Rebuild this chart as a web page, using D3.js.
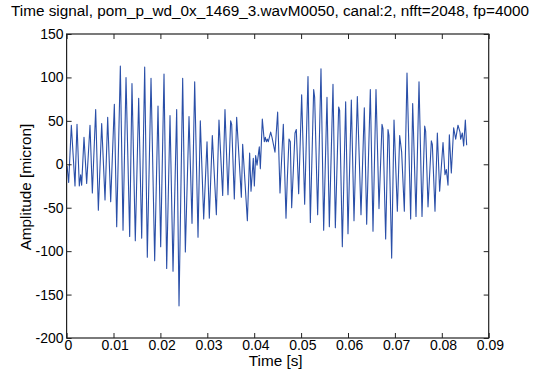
<!DOCTYPE html>
<html>
<head>
<meta charset="utf-8">
<script src="https://cdn.jsdelivr.net/npm/d3@7/dist/d3.min.js"></script>
<style>
  html, body { margin: 0; padding: 0; background: #fff; }
  svg { display: block; }
  text { font-family: "Liberation Sans", Arial, sans-serif; fill: #000; }
</style>
</head>
<body>
<svg id="chart" width="536" height="370"></svg>
<script>
// Time of each read sample (milliseconds) and its amplitude (micron)
const timeMs = [
  0.10, 0.44, 1.01, 1.79, 2.22, 2.71, 3.00, 3.21, 3.71, 4.28, 4.99, 5.49, 6.20, 6.77, 7.48, 8.19, 8.76, 9.40,
  10.18, 10.68, 11.46, 12.03, 12.67, 13.45, 13.94, 14.65,
  15.37, 16.01, 16.65, 17.21, 18.00, 18.78, 19.49, 20.06, 20.77, 21.34, 22.05, 22.69, 23.47, 23.97,
  24.75, 25.32, 26.10, 26.74, 27.31, 28.02, 28.51, 29.23, 29.94, 30.43,
  31.07, 31.93, 32.49, 33.28, 33.77, 34.41, 34.98, 35.20, 35.76, 36.26, 37.26, 37.54, 38.54, 39.03,
  39.32, 39.81, 40.03, 40.31, 40.60, 41.09, 41.31, 41.73, 42.16, 42.37, 42.59, 42.80, 43.01, 43.51,
  43.80, 44.43, 45.00, 45.50, 46.21, 46.78,
  47.06, 47.42, 47.70, 47.99, 48.70, 48.98, 49.48, 50.12, 50.76, 51.47, 51.97, 52.68, 52.89, 53.53,
  54.24, 54.81, 55.52, 56.02, 56.80, 57.30, 58.01, 58.22, 58.79, 59.50, 60.00, 60.71, 61.28, 61.99, 62.77,
  63.48, 63.98, 64.76, 65.33, 65.97, 66.61, 67.25, 67.46, 68.03, 68.53, 68.74, 69.31, 69.81, 70.52,
  71.02, 71.44, 72.01, 72.58, 73.36, 73.79, 74.50, 75.14, 75.78, 76.35, 76.56, 77.06, 77.77, 77.98, 78.55,
  79.05, 79.54, 80.26, 80.68, 80.97, 81.32, 81.61, 82.03, 82.53, 82.96, 83.45, 83.88, 84.02, 84.38,
  84.66, 85.02, 85.30
];
const amplitude = [
  -2, -21, 45, -25, 46, -25, -12, -24, 31, -22, 45, -33, 63, -53, 47, -41, 54, -43,
  69, -72, 113, -76, 100, -83, 93, -88,
  76, -85, 112, -107, 99, -111, 67, -95, 104, -120, 56, -123, 63, -163,
  99, -101, 55, -68, 95, -84, 50, -63, 26, -62,
  33, -58, 51, -36, 63, -35, 50, 46, -40, 54, -38, 23, -65, 13,
  -31, 7, -25, 10, -1, 20, -5, 52, 26, 31, 26, 29, 26, 37,
  31, 14, 60, -33, 46, -62,
  -17, 29, 26, -50, 36, 40, -34, 80, -46, 101, -67, 86, 77, -58,
  110, -76, 77, -72, 92, -73, 66, 62, -95, 72, -80, 74, -65, 78, -58,
  65, -69, 86, -77, 86, -51, 46, 41, -86, 40, 33, -108, 51, -54,
  33, 14, -54, 105, -63, 70, -60, 95, -60, 44, 38, -49, 27, 23, -54,
  36, -31, 25, -12, -6, -24, 34, -10, 42, 29, 45, 37, 29, 36,
  21, 51, 22
];

const xTicks = [0, 0.01, 0.02, 0.03, 0.04, 0.05, 0.06, 0.07, 0.08, 0.09];
const xTickLabels = ["0", "0.01", "0.02", "0.03", "0.04", "0.05", "0.06", "0.07", "0.08", "0.09"];
const yTicks = [-200, -150, -100, -50, 0, 50, 100, 150];
const yTickLabels = ["-200", "-150", "-100", "-50", "0", "50", "100", "150"];

const titleText = "Time signal, pom_p_wd_0x_1469_3.wavM0050, canal:2, nfft=2048, fp=4000";
const xLabel = "Time [s]";
const yLabel = "Amplitude [micron]";

const data = timeMs.map((t, i) => ({ t: t / 1000, v: amplitude[i] }));

const L = 66.6, R = 488.7, T = 34, B = 338;
const svg = d3.select("#chart");
const x = d3.scaleLinear().domain([0, 0.09]).range([L, R]);
const y = d3.scaleLinear().domain([-200, 150]).range([B, T]);

const fontSize = 15.3;
const tickFont = 14;
const tickLen = 5;

// line
svg.append("path")
  .datum(data)
  .attr("fill", "none")
  .attr("stroke", "#2a4fa8")
  .attr("stroke-width", 1.1)
  .attr("stroke-linejoin", "round")
  .attr("d", d3.line().x(d => x(d.t)).y(d => y(d.v)));

function styleAxis(g, showLabels) {
  g.select(".domain").remove();
  g.selectAll(".tick line").attr("stroke", "#222").attr("stroke-width", 1);
  g.selectAll(".tick text").style("font-size", tickFont + "px")
    .style("font-family", '"Liberation Sans", Arial, sans-serif').attr("fill", "#000");
  if (!showLabels) g.selectAll(".tick text").remove();
}

// bottom
const gx = svg.append("g").attr("transform", `translate(0,${B})`)
  .call(d3.axisBottom(x).tickValues(xTicks).tickSize(-tickLen).tickPadding(2)
    .tickFormat((d, i) => xTickLabels[i]));
styleAxis(gx, true);
gx.selectAll(".tick text").attr("dy", "0.71em").attr("dx", 1.2);
// top
const gxt = svg.append("g").attr("transform", `translate(0,${T})`)
  .call(d3.axisTop(x).tickValues(xTicks).tickSize(-tickLen));
styleAxis(gxt, false);
// left
const gy = svg.append("g").attr("transform", `translate(${L},0)`)
  .call(d3.axisLeft(y).tickValues(yTicks).tickSize(-tickLen).tickPadding(3)
    .tickFormat((d, i) => yTickLabels[i]));
styleAxis(gy, true);
// right
const gyr = svg.append("g").attr("transform", `translate(${R},0)`)
  .call(d3.axisRight(y).tickValues(yTicks).tickSize(-tickLen));
styleAxis(gyr, false);

// box
svg.append("rect").attr("x", L).attr("y", T).attr("width", R - L).attr("height", B - T)
  .attr("fill", "none").attr("stroke", "#222").attr("stroke-width", 1.2);

// texts
svg.append("text").attr("x", 270).attr("y", 15.5).attr("text-anchor", "middle")
  .style("font-size", fontSize + "px").text(titleText);
svg.append("text").attr("x", (L + R) / 2 - 2).attr("y", 366).attr("text-anchor", "middle")
  .style("font-size", fontSize + "px").text(xLabel);
svg.append("text").attr("transform", `translate(31,${(T + B) / 2 + 1}) rotate(-90)`)
  .attr("text-anchor", "middle").style("font-size", fontSize + "px").text(yLabel);
</script>
</body>
</html>
